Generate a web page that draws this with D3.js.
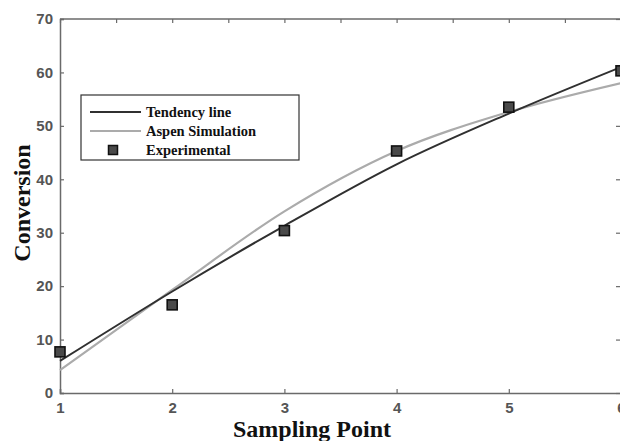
<!DOCTYPE html>
<html><head><meta charset="utf-8">
<script src="https://cdn.jsdelivr.net/npm/d3@7"></script>
<style>body{margin:0;background:#fff}svg{display:block}</style>
</head><body>
<script>
const samplingPoints = [1, 2, 3, 4, 5, 6];
const experimental = [7.7, 16.5, 30.4, 45.3, 53.5, 60.3];
const tendency = [6.0, 19.0, 31.3, 42.8, 52.3, 61.0];
const aspen = [4.3, 19.3, 34.0, 45.3, 52.6, 58.0];
const yTicks = [0, 10, 20, 30, 40, 50, 60, 70];
const xTicks = [1, 2, 3, 4, 5, 6];
const legendLabels = ["Tendency line", "Aspen Simulation", "Experimental"];

const W = 620, H = 441;
const svg = d3.select("body").append("svg").attr("width", W).attr("height", H);
const x = d3.scaleLinear().domain([1, 6]).range([60, 621]);
const y = d3.scaleLinear().domain([0, 70]).range([393, 19]);
const axisColor = "#6a6a6a";

// box
const frame = svg.append("g");
frame.append("line").attr("x1", x(1)).attr("x2", x(6)).attr("y1", y(70)).attr("y2", y(70)).attr("stroke", axisColor).attr("stroke-width", 1.5);
frame.append("line").attr("x1", x(6)).attr("x2", x(6)).attr("y1", y(70)).attr("y2", y(0)).attr("stroke", axisColor).attr("stroke-width", 1.5);

// left axis
const gy = svg.append("g").attr("transform", `translate(${x(1)},0)`)
  .call(d3.axisLeft(y).tickValues(yTicks).tickSize(-4).tickPadding(7).tickFormat(d3.format("d")));
// bottom axis
const gx = svg.append("g").attr("transform", `translate(0,${y(0)})`)
  .call(d3.axisBottom(x).tickValues(xTicks).tickSize(-4).tickPadding(9).tickFormat(d3.format("d")));
// top ticks
const gt = svg.append("g").attr("transform", `translate(0,${y(70)})`)
  .call(d3.axisTop(x).tickValues(d3.range(1, 6.01, 0.5)).tickSize(-4).tickFormat(""));
// right ticks
const gr = svg.append("g").attr("transform", `translate(${x(6)},0)`)
  .call(d3.axisRight(y).tickValues(yTicks).tickSize(-5).tickFormat(""));
[gy, gx, gt, gr].forEach(g => {
  g.select(".domain").attr("stroke", axisColor).attr("stroke-width", 1.5);
  g.selectAll(".tick line").attr("stroke", axisColor).attr("stroke-width", 1.2);
  g.selectAll(".tick text").attr("fill", "#555").attr("font-family", "Liberation Sans, Arial, sans-serif")
    .attr("font-size", 15).attr("font-weight", "bold");
});
gt.select(".domain").remove();
gr.select(".domain").remove();

// lines
const line = d3.line().x((d, i) => x(samplingPoints[i])).y(d => y(d)).curve(d3.curveMonotoneX);
svg.append("path").datum(aspen).attr("d", line).attr("fill", "none").attr("stroke", "#ababab").attr("stroke-width", 2.2);
svg.append("path").datum(tendency).attr("d", line).attr("fill", "none").attr("stroke", "#303030").attr("stroke-width", 2);

// markers
const ms = 10;
svg.append("g").selectAll("rect").data(experimental).join("rect")
  .attr("x", (d, i) => x(samplingPoints[i]) - ms / 2).attr("y", d => y(d) - ms / 2)
  .attr("width", ms).attr("height", ms).attr("fill", "#4a4a4a").attr("stroke", "#111").attr("stroke-width", 1.6);

// legend
const lg = svg.append("g");
lg.append("rect").attr("x", 81).attr("y", 95).attr("width", 218).attr("height", 65)
  .attr("fill", "#fff").attr("stroke", "#333").attr("stroke-width", 1.2);
const rowsY = [112, 131, 150];
lg.append("line").attr("x1", 90).attr("x2", 141).attr("y1", rowsY[0]).attr("y2", rowsY[0]).attr("stroke", "#303030").attr("stroke-width", 2);
lg.append("line").attr("x1", 90).attr("x2", 141).attr("y1", rowsY[1]).attr("y2", rowsY[1]).attr("stroke", "#ababab").attr("stroke-width", 2);
lg.append("rect").attr("x", 113 - 4.5).attr("y", rowsY[2] - 4.5).attr("width", 9).attr("height", 9)
  .attr("fill", "#4a4a4a").attr("stroke", "#111").attr("stroke-width", 1.5);
lg.selectAll("text").data(legendLabels).join("text")
  .attr("x", 146).attr("y", (d, i) => rowsY[i] + 4.5)
  .attr("font-family", "Liberation Serif, Times New Roman, serif").attr("font-weight", "bold")
  .attr("font-size", 14.5).attr("fill", "#111").text(d => d);

// axis titles
svg.append("text").attr("x", 312).attr("y", 437).attr("text-anchor", "middle")
  .attr("font-family", "Liberation Serif, Times New Roman, serif").attr("font-weight", "bold")
  .attr("font-size", 24).attr("fill", "#111").text("Sampling Point");
svg.append("text").attr("transform", "translate(30,203) rotate(-90)").attr("text-anchor", "middle")
  .attr("font-family", "Liberation Serif, Times New Roman, serif").attr("font-weight", "bold")
  .attr("font-size", 24).attr("fill", "#111").text("Conversion");
</script>
</body></html>
